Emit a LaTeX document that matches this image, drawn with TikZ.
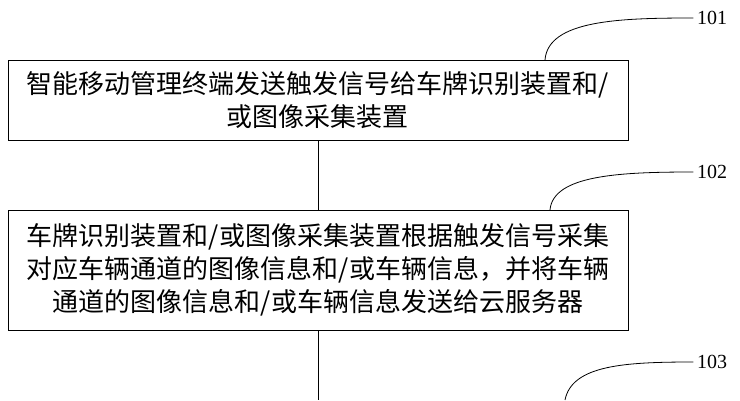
\documentclass[tikz,border=0pt]{standalone}
\usepackage{fontspec}
\setmainfont{Liberation Serif}
\newfontfamily\cjk{Noto Sans CJK SC}
\usetikzlibrary{positioning}
\begin{document}
\begin{tikzpicture}[x=1pt,y=-1pt,
		stepbox/.style = {draw, thick, minimum width=620pt, align=center, font=\cjk\fontsize{26}{33}\selectfont},
		tag/.style = {font=\fontsize{20}{20}\selectfont},
		lead/.style = {thick}
		]
		\useasboundingbox (0,0) rectangle (740,400);
		\node (s1) [stepbox, minimum height=80pt] at (318,100) {智能移动管理终端发送触发信号给车牌识别装置和/\\或图像采集装置};
		\node (s2) [stepbox, minimum height=120pt] at (318,270) {车牌识别装置和/或图像采集装置根据触发信号采集\\对应车辆通道的图像信息和/或车辆信息，并将车辆\\通道的图像信息和/或车辆信息发送给云服务器};
		\coordinate (s3) at (318,400);
		
		\node (t1) [tag] at (712,18) {101};
		\node (t2) [tag] at (712,172) {102};
		\node (t3) [tag] at (712,362) {103};
		
		\draw[lead] (s1) -- (s2);
		\draw[lead] (s2) -- (s3);
		
		%leader curves
		\draw[lead] (545,60) .. controls (548,20) and (620,18) .. (t1.west);
		\draw[lead] (550,210) .. controls (553,175) and (620,172) .. (t2.west);
		\draw[lead] (565,400) .. controls (572,365) and (625,362) .. (t3.west);
\end{tikzpicture}
\end{document}
